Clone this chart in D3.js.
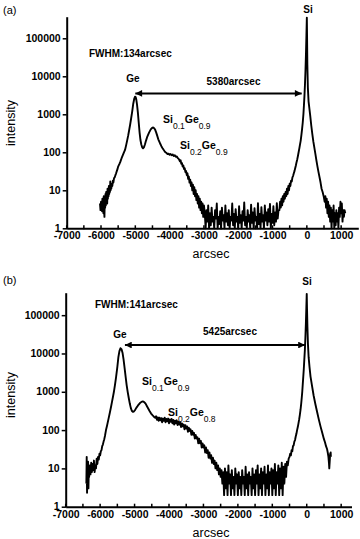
<!DOCTYPE html>
<html>
<head>
<meta charset="utf-8">
<script src="https://cdn.jsdelivr.net/npm/d3@7"></script>
<style>
body { margin: 0; background: #fff; }
svg text { font-family: "Liberation Sans", Arial, sans-serif; }
</style>
</head>
<body>
<div id="container"></div>
<script>
//tick values and labels shared by both panels
var xTicks = [-7000, -6000, -5000, -4000, -3000, -2000, -1000, 0, 1000];
var xTickLabels = ['-7000', '-6000', '-5000', '-4000', '-3000', '-2000', '-1000', '0', '1000'];
var xMinor = [-6500, -5500, -4500, -3500, -2500, -1500, -500, 500];
var yTicks = [1, 10, 100, 1000, 10000, 100000];
var yTickLabels = ['1', '10', '100', '1000', '10000', '100000'];

//spectrum (a): [arcsec, intensity]
var specA = [
[-6030,4.5],[-6015,3],[-6000,5],[-5990,3.2],[-5980,4],[-5970,2.8],[-5960,6],[-5950,3.5],[-5940,5],[-5930,2.5],
[-5920,7],[-5910,3],[-5900,2],[-5890,6],[-5880,3.5],[-5870,8],[-5860,4],[-5850,9],[-5840,5],[-5830,7],
[-5820,4.5],[-5810,11],[-5800,6],[-5790,10],[-5780,7],[-5770,13],[-5760,8],[-5750,12],[-5740,9],[-5730,17],
[-5720,10],[-5710,14],[-5700,11],[-5685,15],[-5670,13],[-5655,18],[-5640,16],[-5620,21],[-5600,22],[-5580,25],
[-5560,28],[-5540,32],[-5520,36],[-5500,42],[-5480,46],[-5460,50],[-5440,55],[-5420,62],[-5400,70],[-5370,82],
[-5340,95],[-5300,115],[-5270,150],[-5240,200],[-5210,270],[-5180,380],[-5150,540],[-5120,800],[-5090,1200],[-5060,1900],
[-5030,2600],[-5010,2900],[-4990,2850],[-4970,2400],[-4950,1800],[-4925,1100],[-4900,600],[-4875,330],[-4850,210],[-4825,160],
[-4800,135],[-4775,128],[-4750,135],[-4720,160],[-4690,200],[-4650,260],[-4600,330],[-4550,400],[-4510,440],[-4480,450],
[-4450,430],[-4420,390],[-4390,330],[-4360,270],[-4330,220],[-4300,190],[-4270,165],[-4240,145],[-4210,130],[-4180,118],
[-4150,108],[-4120,100],[-4090,96],[-4060,90],[-4030,92],[-4000,86],[-3970,90],[-3940,84],[-3910,88],[-3880,80],
[-3850,84],[-3820,76],[-3790,78],[-3760,70],[-3730,66],[-3700,58],[-3680,62],[-3660,50],[-3640,52],[-3620,42],
[-3600,45],[-3580,36],[-3560,38],[-3540,30],[-3520,32],[-3500,25],[-3480,28],[-3460,20],[-3440,23],[-3420,16],
[-3400,19],[-3380,13],[-3360,16],[-3340,10],[-3320,14],[-3300,8],[-3280,12],[-3260,7],[-3240,10],[-3220,5.5],
[-3200,8],[-3180,4.5],[-3160,7],[-3140,3.5],[-3120,6],[-3100,3],[-3080,5],[-3060,2.5],[-3040,4.5],[-3020,2],
[-3000,4],[-2975,2.5],[-2950,1],[-2925,3],[-2900,1.5],[-2875,4],[-2850,1],[-2825,2.5],[-2800,1.2],[-2775,3.5],
[-2750,1.5],[-2725,2],[-2700,1],[-2675,3],[-2650,1.8],[-2625,4.5],[-2600,1],[-2575,2],[-2550,1.3],[-2525,2.8],
[-2500,1],[-2475,3.5],[-2450,1.6],[-2425,2.2],[-2400,1],[-2375,4],[-2350,1.5],[-2325,2.5],[-2300,1.2],[-2275,3],
[-2250,1],[-2225,2],[-2200,1.6],[-2175,4.5],[-2150,1.2],[-2125,2.4],[-2100,1],[-2075,3.2],[-2050,1.5],[-2025,2],
[-2000,1],[-1975,3.8],[-1950,1.4],[-1925,2.2],[-1900,1],[-1875,2.8],[-1850,1.6],[-1825,4.8],[-1800,1.2],[-1775,2],
[-1750,1],[-1725,3],[-1700,1.5],[-1675,2.2],[-1650,1],[-1625,4.2],[-1600,1.4],[-1575,2.6],[-1550,1],[-1525,3.4],
[-1500,1.6],[-1475,2],[-1450,1],[-1425,4.6],[-1400,1.3],[-1375,2.4],[-1350,1],[-1325,3.6],[-1300,1.5],[-1275,2.2],
[-1250,1],[-1225,4],[-1200,1.6],[-1175,2.6],[-1150,1.2],[-1125,3.2],[-1100,1.5],[-1075,4.4],[-1050,1],[-1025,2.4],
[-1000,1.4],[-975,3.8],[-950,1.2],[-925,2.6],[-900,1.5],[-875,4.6],[-850,1.8],[-825,3],[-800,3],[-780,5],
[-760,3.5],[-740,6],[-720,4],[-700,7],[-680,5],[-660,8],[-640,6],[-620,9],[-600,7],[-580,11],
[-560,8],[-540,13],[-520,10],[-500,15],[-480,13],[-460,18],[-440,17],[-420,22],[-400,24],[-380,28],
[-360,32],[-340,38],[-320,45],[-300,55],[-280,65],[-260,80],[-240,100],[-220,125],[-200,160],[-180,200],
[-160,280],[-140,400],[-120,600],[-100,1000],[-85,1700],[-70,3000],[-55,6000],[-40,14000],[-25,40000],[-12,120000],
[0,350000],[6,120000],[15,20000],[30,5000],[50,2200],[75,1400],[100,900],[130,500],[160,300],[190,190],
[220,130],[250,90],[280,60],[310,42],[340,30],[370,22],[400,16],[430,11],[460,9],[490,7],
[520,5],[540,7],[560,3.5],[580,6],[600,2.5],[620,5],[640,2],[660,4],[680,1.5],[700,3.5],
[720,1],[740,3],[760,1.5],[780,4],[800,1],[820,2.5],[840,1.2],[860,3],[880,1.5],[900,2.5],
[920,1],[940,3.5],[960,2],[980,5],[1000,2.5],[1020,4.5],[1040,1.5],[1060,3],[1080,2],[1100,3],[1120,2.5]
];

//spectrum (b): [arcsec, intensity]
var specB = [
[-6400,4],[-6390,20],[-6380,2.3],[-6370,12],[-6360,5],[-6350,15],[-6340,3],[-6330,9],[-6320,6],[-6300,12],
[-6280,7],[-6260,14],[-6240,8],[-6220,13],[-6200,9],[-6180,16],[-6160,8],[-6140,12],[-6120,10],[-6100,18],
[-6080,13],[-6060,20],[-6040,17],[-6020,24],[-6000,22],[-5980,28],[-5960,30],[-5940,38],[-5920,42],[-5900,50],
[-5880,58],[-5860,70],[-5830,100],[-5800,130],[-5760,190],[-5720,280],[-5680,420],[-5650,580],[-5620,800],[-5600,1000],
[-5570,1500],[-5540,2300],[-5500,4500],[-5470,8000],[-5440,11500],[-5410,13700],[-5380,13000],[-5350,10500],[-5320,7000],[-5290,4200],
[-5260,2500],[-5230,1500],[-5200,1000],[-5170,700],[-5140,500],[-5110,380],[-5080,320],[-5050,300],[-5020,305],[-4990,330],
[-4950,380],[-4900,440],[-4850,500],[-4800,545],[-4760,560],[-4720,540],[-4680,490],[-4640,420],[-4600,360],[-4560,310],
[-4520,270],[-4480,245],[-4440,225],[-4420,215],[-4400,210],[-4375,230],[-4350,185],[-4325,215],[-4300,175],[-4275,210],
[-4250,180],[-4225,205],[-4200,160],[-4175,200],[-4150,175],[-4125,210],[-4100,160],[-4075,195],[-4050,170],[-4025,200],
[-4000,150],[-3975,190],[-3950,165],[-3925,195],[-3900,150],[-3875,185],[-3850,140],[-3825,175],[-3800,150],[-3775,180],
[-3750,135],[-3725,165],[-3700,140],[-3675,160],[-3650,120],[-3625,150],[-3600,125],[-3575,140],[-3550,105],[-3525,135],
[-3500,110],[-3475,125],[-3450,90],[-3425,115],[-3400,95],[-3375,105],[-3350,75],[-3325,95],[-3300,75],[-3275,85],
[-3250,60],[-3225,75],[-3200,60],[-3175,65],[-3150,45],[-3125,60],[-3100,45],[-3075,52],[-3050,35],[-3025,45],
[-3000,35],[-2975,40],[-2950,26],[-2925,35],[-2900,25],[-2875,30],[-2850,19],[-2825,26],[-2800,18],[-2775,22],
[-2750,14],[-2725,19],[-2700,13],[-2675,16],[-2650,10],[-2625,14],[-2600,9],[-2575,12],[-2550,7],[-2525,10],
[-2500,6],[-2475,9],[-2450,4],[-2425,8],[-2400,2],[-2375,10],[-2350,3],[-2325,8],[-2300,2],[-2275,12],
[-2250,4],[-2225,7],[-2200,2],[-2175,9],[-2150,3],[-2125,6],[-2100,2],[-2075,10],[-2050,4],[-2025,7],
[-2000,2],[-1975,8],[-1950,3],[-1925,6],[-1900,2],[-1875,9],[-1850,4],[-1825,6],[-1800,2],[-1775,11],
[-1750,3],[-1725,7],[-1700,2],[-1675,8],[-1650,4],[-1625,6],[-1600,2],[-1575,10],[-1550,3],[-1525,7],
[-1500,2],[-1475,9],[-1450,4],[-1425,12],[-1400,2],[-1375,7],[-1350,3],[-1325,10],[-1300,2],[-1275,8],
[-1250,4],[-1225,11],[-1200,2],[-1175,7],[-1150,3],[-1125,12],[-1100,2],[-1075,8],[-1050,4],[-1025,10],
[-1000,2],[-975,9],[-950,3],[-925,13],[-900,2],[-875,8],[-850,4],[-825,12],[-800,2],[-775,10],
[-750,3],[-725,14],[-700,2],[-675,11],[-650,4],[-625,13],[-600,6],[-575,15],[-550,12],[-525,18],
[-500,20],[-480,24],[-460,22],[-440,30],[-420,28],[-400,38],[-380,40],[-360,50],[-340,55],[-320,68],
[-300,80],[-280,100],[-260,120],[-240,150],[-220,190],[-200,250],[-180,340],[-160,500],[-145,700],[-130,1000],
[-115,1600],[-100,2500],[-85,4000],[-70,7000],[-55,12000],[-40,25000],[-25,60000],[-12,150000],[0,360000],[8,150000],
[20,50000],[35,18000],[55,8000],[80,4500],[110,2500],[150,1500],[200,800],[250,480],[300,300],[350,190],
[400,125],[450,85],[500,58],[530,48],[560,38],[590,32],[610,26],[630,20],[645,14],[655,10],
[665,14],[680,24],[695,26],[700,20]
];

//text labels placed in data units (arcsec, intensity)
var notesA = [
  { text: 'FWHM:134arcsec', x: -6350, y: 32000, anchor: 'start' },
  { text: 'Ge', x: -5067, y: 7000, anchor: 'middle' },
  { text: '5380arcsec', x: -2137, y: 5900, anchor: 'middle' },
  { text: 'Si', x: 35, y: 465000, anchor: 'middle' }
];
var notesB = [
  { text: 'FWHM:141arcsec', x: -6149, y: 155000, anchor: 'start' },
  { text: 'Ge', x: -5423, y: 25300, anchor: 'middle' },
  { text: '5425arcsec', x: -2228, y: 30400, anchor: 'middle' },
  { text: 'Si', x: 8, y: 616000, anchor: 'middle' }
];
//alloy labels: Si subscript, Ge subscript, anchor
var alloysA = [
  { si: '0.1', ge: '0.9', x: -4192, y: 590 },
  { si: '0.2', ge: '0.9', x: -3696, y: 122 }
];
var alloysB = [
  { si: '0.1', ge: '0.9', x: -4784, y: 1500 },
  { si: '0.2', ge: '0.8', x: -4029, y: 237 }
];
//peak separation arrows
var arrowA = { x1: -5000, x2: -150, y: 3550 };
var arrowB = { x1: -5280, x2: -50, y: 16600 };

var svg = d3.select('#container')
  .append('svg')
  .attr('width', 360)
  .attr('height', 539);

//arrow head
svg.append('defs').append('marker')
  .attr('id', 'head')
  .attr('viewBox', '0 0 10 10')
  .attr('refX', 10)
  .attr('refY', 5)
  .attr('markerWidth', 4)
  .attr('markerHeight', 3.4)
  .attr('orient', 'auto-start-reverse')
  .append('path')
  .attr('d', 'M0,0L10,5L0,10Z')
  .attr('fill', '#000');

//*** draw one panel ***//
function drawPanel(opt) {
  var g = svg.append('g');

  var x = d3.scaleLinear().domain(opt.xDomain).range([opt.left, opt.right]);
  var y = d3.scaleLog().domain(opt.yDomain).range([opt.bottom, opt.top]);

  //y axis
  var yAxis = g.append('g')
    .attr('transform', 'translate(' + opt.left + ',0)')
    .call(d3.axisLeft(y)
      .tickValues(yTicks)
      .tickFormat(function(d, i) { return yTickLabels[i]; })
      .tickSize(4)
      .tickSizeOuter(0)
      .tickPadding(2));

  //x axis (labels only, ticks drawn below)
  var xAxis = g.append('g')
    .attr('transform', 'translate(0,' + opt.bottom + ')')
    .call(d3.axisBottom(x)
      .tickValues(xTicks)
      .tickFormat(function(d, i) { return xTickLabels[i]; })
      .tickSize(0)
      .tickSizeOuter(0)
      .tickPadding(3.5));

  [yAxis, xAxis].forEach(function(a) {
    a.select('.domain').attr('stroke-width', 2);
    a.selectAll('line').attr('stroke-width', 1.5);
    a.selectAll('text')
      .attr('font-family', '"Liberation Sans", Arial, sans-serif')
      .attr('font-size', 10.5)
      .attr('font-weight', 'bold')
      .attr('fill', '#000');
  });
  yAxis.selectAll('text').attr('dy', '0.28em');

  //x ticks: majors and minors sit on the axis line
  g.selectAll('.xtick')
    .data(xTicks.concat(xMinor))
    .enter()
    .append('line')
    .attr('x1', function(d) { return x(d); })
    .attr('x2', function(d) { return x(d); })
    .attr('y1', opt.bottom - 3)
    .attr('y2', opt.bottom + 1)
    .attr('stroke', '#000')
    .attr('stroke-width', 1.5);

  //the spectrum
  var line = d3.line()
    .x(function(d) { return x(d[0]); })
    .y(function(d) { return y(d[1]); });

  g.append('path')
    .datum(opt.spec)
    .attr('d', line)
    .attr('fill', 'none')
    .attr('stroke', '#000')
    .attr('stroke-width', 1.9)
    .attr('stroke-linejoin', 'round');

  //separation arrow
  g.append('line')
    .attr('x1', x(opt.arrow.x1))
    .attr('x2', x(opt.arrow.x2))
    .attr('y1', y(opt.arrow.y))
    .attr('y2', y(opt.arrow.y))
    .attr('stroke', '#000')
    .attr('stroke-width', 2)
    .attr('marker-start', 'url(#head)')
    .attr('marker-end', 'url(#head)');

  //bold notes
  g.selectAll('.note')
    .data(opt.notes)
    .enter()
    .append('text')
    .attr('x', function(d) { return x(d.x); })
    .attr('y', function(d) { return y(d.y); })
    .attr('text-anchor', function(d) { return d.anchor; })
    .attr('font-size', 10)
    .attr('font-weight', 'bold')
    .text(function(d) { return d.text; });

  //SiGe alloy labels with subscripts
  var alloy = g.selectAll('.alloy')
    .data(opt.alloys)
    .enter()
    .append('text')
    .attr('x', function(d) { return x(d.x); })
    .attr('y', function(d) { return y(d.y); })
    .attr('font-size', 10.5)
    .attr('font-weight', 'bold');
  alloy.append('tspan').text('Si');
  alloy.append('tspan').attr('dy', 6).attr('font-size', 8.5).attr('font-weight', 'normal')
    .text(function(d) { return d.si; });
  alloy.append('tspan').attr('dy', -6).text('Ge');
  alloy.append('tspan').attr('dy', 6).attr('font-size', 8.5).attr('font-weight', 'normal')
    .text(function(d) { return d.ge; });

  //titles
  svg.append('text')
    .attr('x', 3)
    .attr('y', opt.tag[1])
    .attr('font-size', 11)
    .text(opt.tag[0]);

  svg.append('text')
    .attr('transform', 'translate(15,' + opt.yTitle + ') rotate(-90)')
    .attr('text-anchor', 'middle')
    .attr('font-size', 12.5)
    .text('intensity');

  svg.append('text')
    .attr('x', 211)
    .attr('y', opt.xTitle)
    .attr('text-anchor', 'middle')
    .attr('font-size', 12.5)
    .text('arcsec');
}

drawPanel({
  left: 66.7, right: 358.3, bottom: 228.3, top: 16.7,
  xDomain: [-7000, 1500], yDomain: [1, 370000],
  spec: specA, notes: notesA, alloys: alloysA, arrow: arrowA,
  tag: ['(a)', 14], yTitle: 123, xTitle: 258
});

drawPanel({
  left: 65.7, right: 351.5, bottom: 506.7, top: 292.7,
  xDomain: [-7000, 1300], yDomain: [1, 386000],
  spec: specB, notes: notesB, alloys: alloysB, arrow: arrowB,
  tag: ['(b)', 284], yTitle: 395, xTitle: 537
});
</script>
</body>
</html>
